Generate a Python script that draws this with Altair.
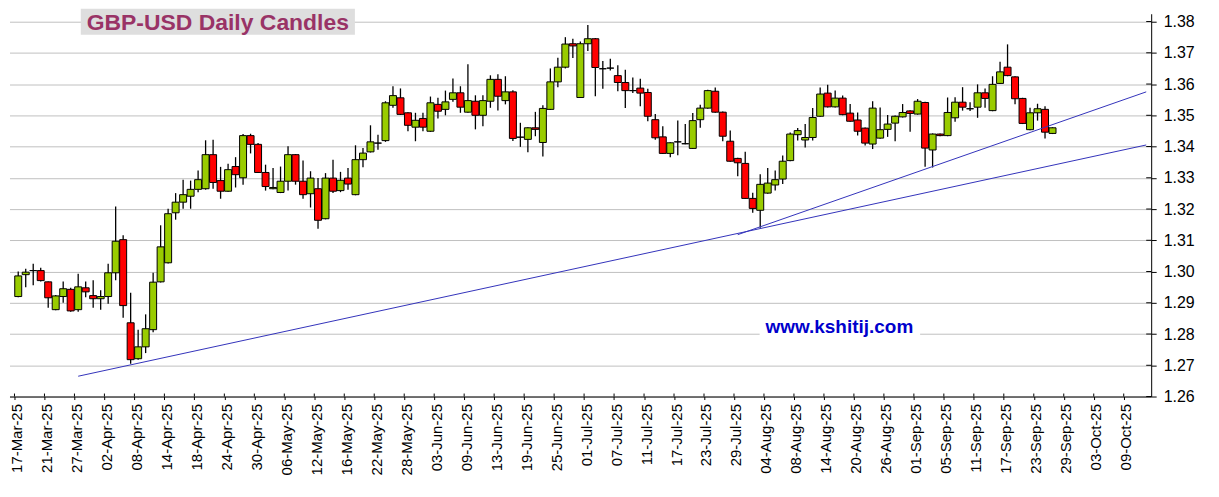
import altair as alt
import pandas as pd

# ---- Daily OHLC (GBP-USD), 17-Mar-25 onward, trading days only ----
opens = [1.2920, 1.2990, 1.3003, 1.3003, 1.2967, 1.2878, 1.2920, 1.2943, 1.2878, 1.2948,
         1.2923, 1.2913, 1.2920, 1.2996, 1.3102, 1.2836, 1.2721, 1.2759, 1.2814, 1.2967,
         1.3028, 1.3188, 1.3222, 1.3241, 1.3263, 1.3265, 1.3374, 1.3291, 1.3257, 1.3336,
         1.3300, 1.3435, 1.3407, 1.3317, 1.3265, 1.3253, 1.3289, 1.3374, 1.3289, 1.3249,
         1.3265, 1.3169, 1.3299, 1.3259, 1.3299, 1.3246, 1.3358, 1.3383, 1.3411, 1.3419,
         1.3532, 1.3556, 1.3508, 1.3462, 1.3490, 1.3449, 1.3535, 1.3519, 1.3551, 1.3572,
         1.3510, 1.3545, 1.3500, 1.3545, 1.3615, 1.3547, 1.3575, 1.3430, 1.3423, 1.3460,
         1.3413, 1.3519, 1.3607, 1.3654, 1.3729, 1.3557, 1.3729, 1.3745, 1.3649, 1.3651,
         1.3627, 1.3605, 1.3579, 1.3587, 1.3573, 1.3486, 1.3431, 1.3378, 1.3415, 1.3409,
         1.3394, 1.3486, 1.3523, 1.3577, 1.3510, 1.3417, 1.3362, 1.3346, 1.3234, 1.3196,
         1.3251, 1.3277, 1.3296, 1.3355, 1.3438, 1.3421, 1.3429, 1.3497, 1.3571, 1.3527,
         1.3555, 1.3507, 1.3485, 1.3459, 1.3408, 1.3427, 1.3455, 1.3475, 1.3495, 1.3514,
         1.3504, 1.3541, 1.3389, 1.3440, 1.3435, 1.3492, 1.3542, 1.3521, 1.3526, 1.3572,
         1.3515, 1.3602, 1.3654, 1.3623, 1.3554, 1.3454, 1.3508, 1.3519, 1.3442]
highs = [1.3000, 1.3009, 1.3025, 1.3012, 1.2968, 1.2925, 1.2968, 1.2948, 1.2993, 1.2968,
         1.2972, 1.2940, 1.3025, 1.3208, 1.3116, 1.2932, 1.2814, 1.2863, 1.2996, 1.3148,
         1.3201, 1.3251, 1.3294, 1.3291, 1.3323, 1.3420, 1.3422, 1.3335, 1.3345, 1.3366,
         1.3440, 1.3441, 1.3411, 1.3342, 1.3331, 1.3336, 1.3401, 1.3376, 1.3355, 1.3321,
         1.3299, 1.3315, 1.3358, 1.3319, 1.3331, 1.3404, 1.3395, 1.3468, 1.3438, 1.3545,
         1.3593, 1.3586, 1.3510, 1.3508, 1.3508, 1.3560, 1.3556, 1.3579, 1.3618, 1.3593,
         1.3663, 1.3564, 1.3564, 1.3628, 1.3631, 1.3625, 1.3580, 1.3476, 1.3462, 1.3511,
         1.3532, 1.3650, 1.3684, 1.3750, 1.3745, 1.3736, 1.3789, 1.3747, 1.3674, 1.3681,
         1.3660, 1.3646, 1.3621, 1.3617, 1.3585, 1.3504, 1.3465, 1.3414, 1.3483, 1.3472,
         1.3507, 1.3534, 1.3582, 1.3589, 1.3512, 1.3451, 1.3364, 1.3383, 1.3252, 1.3311,
         1.3331, 1.3323, 1.3371, 1.3445, 1.3459, 1.3472, 1.3523, 1.3589, 1.3598, 1.3579,
         1.3563, 1.3536, 1.3509, 1.3461, 1.3545, 1.3525, 1.3501, 1.3499, 1.3536, 1.3516,
         1.3552, 1.3543, 1.3442, 1.3442, 1.3557, 1.3558, 1.3590, 1.3542, 1.3599, 1.3586,
         1.3625, 1.3671, 1.3727, 1.3625, 1.3556, 1.3524, 1.3537, 1.3529, 1.3462]
lows = [1.2918, 1.2950, 1.2956, 1.2968, 1.2884, 1.2876, 1.2900, 1.2871, 1.2871, 1.2918,
        1.2884, 1.2878, 1.2897, 1.2972, 1.2852, 1.2705, 1.2718, 1.2739, 1.2806, 1.2965,
        1.3026, 1.3166, 1.3201, 1.3201, 1.3254, 1.3262, 1.3265, 1.3233, 1.3255, 1.3269,
        1.3278, 1.3378, 1.3315, 1.3259, 1.3263, 1.3251, 1.3259, 1.3278, 1.3233, 1.3205,
        1.3137, 1.3167, 1.3251, 1.3254, 1.3262, 1.3244, 1.3334, 1.3381, 1.3390, 1.3415,
        1.3524, 1.3501, 1.3449, 1.3417, 1.3449, 1.3447, 1.3490, 1.3500, 1.3543, 1.3508,
        1.3508, 1.3455, 1.3465, 1.3524, 1.3515, 1.3535, 1.3418, 1.3399, 1.3382, 1.3433,
        1.3368, 1.3517, 1.3590, 1.3650, 1.3683, 1.3555, 1.3706, 1.3561, 1.3585, 1.3643,
        1.3577, 1.3523, 1.3571, 1.3529, 1.3481, 1.3422, 1.3376, 1.3366, 1.3372, 1.3407,
        1.3392, 1.3460, 1.3521, 1.3508, 1.3417, 1.3351, 1.3305, 1.3232, 1.3188, 1.3140,
        1.3249, 1.3259, 1.3280, 1.3353, 1.3419, 1.3397, 1.3419, 1.3495, 1.3525, 1.3525,
        1.3500, 1.3479, 1.3435, 1.3403, 1.3392, 1.3425, 1.3431, 1.3417, 1.3493, 1.3447,
        1.3502, 1.3335, 1.3333, 1.3433, 1.3433, 1.3479, 1.3515, 1.3514, 1.3492, 1.3524,
        1.3513, 1.3600, 1.3625, 1.3535, 1.3472, 1.3452, 1.3483, 1.3426, 1.3440]
closes = [1.2986, 1.2998, 1.3003, 1.2971, 1.2916, 1.2922, 1.2945, 1.2874, 1.2951, 1.2935,
          1.2913, 1.2920, 1.2996, 1.3097, 1.2891, 1.2718, 1.2759, 1.2817, 1.2966, 1.3079,
          1.3185, 1.3222, 1.3246, 1.3263, 1.3294, 1.3374, 1.3285, 1.3257, 1.3326, 1.3310,
          1.3435, 1.3407, 1.3317, 1.3272, 1.3269, 1.3289, 1.3374, 1.3289, 1.3246, 1.3299,
          1.3164, 1.3299, 1.3257, 1.3292, 1.3280, 1.3358, 1.3379, 1.3415, 1.3411, 1.3540,
          1.3563, 1.3503, 1.3468, 1.3484, 1.3462, 1.3540, 1.3513, 1.3543, 1.3572, 1.3526,
          1.3547, 1.3500, 1.3547, 1.3615, 1.3561, 1.3575, 1.3426, 1.3430, 1.3460, 1.3455,
          1.3522, 1.3607, 1.3654, 1.3728, 1.3722, 1.3729, 1.3745, 1.3653, 1.3649, 1.3651,
          1.3605, 1.3579, 1.3579, 1.3571, 1.3497, 1.3428, 1.3378, 1.3412, 1.3415, 1.3409,
          1.3483, 1.3523, 1.3579, 1.3510, 1.3433, 1.3353, 1.3348, 1.3234, 1.3202, 1.3279,
          1.3283, 1.3294, 1.3353, 1.3440, 1.3451, 1.3429, 1.3493, 1.3568, 1.3527, 1.3555,
          1.3502, 1.3481, 1.3449, 1.3411, 1.3523, 1.3454, 1.3472, 1.3497, 1.3509, 1.3506,
          1.3545, 1.3395, 1.3440, 1.3435, 1.3509, 1.3542, 1.3526, 1.3521, 1.3572, 1.3554,
          1.3599, 1.3639, 1.3627, 1.3553, 1.3474, 1.3508, 1.3521, 1.3446, 1.3460]

# x-axis tick labels, one every 4 trading days starting at index 0
tick_labels = ["17-Mar-25", "21-Mar-25", "27-Mar-25", "02-Apr-25", "08-Apr-25", "14-Apr-25",
               "18-Apr-25", "24-Apr-25", "30-Apr-25", "06-May-25", "12-May-25", "16-May-25",
               "22-May-25", "28-May-25", "03-Jun-25", "09-Jun-25", "13-Jun-25", "19-Jun-25",
               "25-Jun-25", "01-Jul-25", "07-Jul-25", "11-Jul-25", "17-Jul-25", "23-Jul-25",
               "29-Jul-25", "04-Aug-25", "08-Aug-25", "14-Aug-25", "20-Aug-25", "26-Aug-25",
               "01-Sep-25", "05-Sep-25", "11-Sep-25", "17-Sep-25", "23-Sep-25", "29-Sep-25",
               "03-Oct-25", "09-Oct-25"]
y_ticks = [1.26, 1.27, 1.28, 1.29, 1.30, 1.31, 1.32, 1.33, 1.34, 1.35, 1.36, 1.37, 1.38]

# trend lines (index, price)
trend1_x = [8, 150.5]
trend1_y = [1.2665, 1.3405]
trend2_x = [96, 150.5]
trend2_y = [1.3118, 1.3575]

title_text = "GBP-USD Daily Candles"
watermark_text = "www.kshitij.com"

# ---- tables ----
n = len(opens)
candles = pd.DataFrame({
    "i": list(range(n)),
    "open": opens, "high": highs, "low": lows, "close": closes,
})
candles["top"] = candles[["open", "close"]].max(axis=1)
candles["bot"] = candles[["open", "close"]].min(axis=1)
candles["kind"] = ["up" if c > o else ("down" if c < o else "doji")
                   for o, c in zip(opens, closes)]

trend = pd.DataFrame({
    "x": trend1_x + trend2_x,
    "y": trend1_y + trend2_y,
    "g": ["a", "a", "b", "b"],
})

# ticks sit on the slot boundaries (half a day before each labelled day)
xtick_pos = [4 * k - 0.5 for k in range(len(tick_labels))]
xticks_df = pd.DataFrame({"xt": xtick_pos})
yticks_df = pd.DataFrame({"yt": y_ticks})

label_js = "[" + ",".join("'%s'" % s for s in tick_labels) + "]"
FONT = "Liberation Sans"

W = 1145.3
H = 384

xscale = alt.Scale(domain=[-0.5, 150.5], nice=False, zero=False)
yscale = alt.Scale(domain=[1.26, 1.3825], nice=False, zero=False)
xaxis = alt.Axis(values=xtick_pos,
                 labelExpr=label_js + "[round((datum.value+0.5)/4)]",
                 labelAngle=270, title=None, grid=False,
                 domainColor="black", tickColor="black", tickSize=3,
                 labelFontSize=15, labelColor="black", labelFont=FONT,
                 labelPadding=4, labelOffset=2, labelOverlap=False, labelFlush=False)
yaxis = alt.Axis(orient="right", values=y_ticks, format=".2f", title=None,
                 grid=True, gridColor="#C0C0C0", gridWidth=1,
                 domainColor="black", tickColor="black", tickSize=5,
                 labelFontSize=16, labelColor="black", labelFont=FONT,
                 labelPadding=7, labelOverlap=False, labelFlush=False)

X = lambda f: alt.X(f, scale=xscale, axis=xaxis)
Y = lambda f: alt.Y(f, scale=yscale, axis=yaxis)

wicks = alt.Chart(candles).mark_rule(color="black", strokeWidth=1.3).encode(
    x=X("i:Q"), y=Y("low:Q"), y2="high:Q",
)

bodies = alt.Chart(candles).mark_bar(size=7, stroke="black", strokeWidth=1).encode(
    x=X("i:Q"), y=Y("bot:Q"), y2="top:Q",
    color=alt.Color("kind:N",
                    scale=alt.Scale(domain=["up", "down", "doji"],
                                    range=["#99CC00", "#FF0000", "#000000"]),
                    legend=None),
)

lines = alt.Chart(trend).mark_line(color="#3333BB", strokeWidth=1, clip=True).encode(
    x=X("x:Q"), y=Y("y:Q"), detail="g:N",
)

# inward halves of the crossing tick marks
xticks_in = alt.Chart(xticks_df).mark_rule(color="black", strokeWidth=1).encode(
    x=X("xt:Q"), y=alt.value(H - 3), y2=alt.value(H))
yticks_in = alt.Chart(yticks_df).mark_rule(color="black", strokeWidth=1).encode(
    y=Y("yt:Q"), x=alt.value(W - 5), x2=alt.value(W))

ann = pd.DataFrame({"t": [title_text], "w": [watermark_text]})

title_box = alt.Chart(ann).mark_rect(color="#DEDEDE").encode(
    x=alt.value(71.5), x2=alt.value(346.5), y=alt.value(-5), y2=alt.value(21))
title = alt.Chart(ann).mark_text(font=FONT, fontSize=23, fontWeight="bold",
                                 color="#993366", align="center",
                                 baseline="alphabetic").encode(
    x=alt.value(209), y=alt.value(16), text="t:N")

wm_box = alt.Chart(ann).mark_rect(color="white").encode(
    x=alt.value(752.5), x2=alt.value(913.5), y=alt.value(305), y2=alt.value(327))
wm = alt.Chart(ann).mark_text(font=FONT, fontSize=19, fontWeight="bold",
                              color="#0000CC", align="center",
                              baseline="alphabetic").encode(
    x=alt.value(832.5), y=alt.value(320), text="w:N")

chart = alt.layer(wicks, bodies, lines, xticks_in, yticks_in,
                  title_box, title, wm_box, wm).properties(
    width=W, height=H,
    autosize=alt.AutoSizeParams(type="none"),
    padding={"left": 1.5, "top": 5, "right": 60, "bottom": 92},
    background="white",
).configure_view(stroke=None)

chart.save("out.html", embed_options={"renderer": "svg", "actions": False})
